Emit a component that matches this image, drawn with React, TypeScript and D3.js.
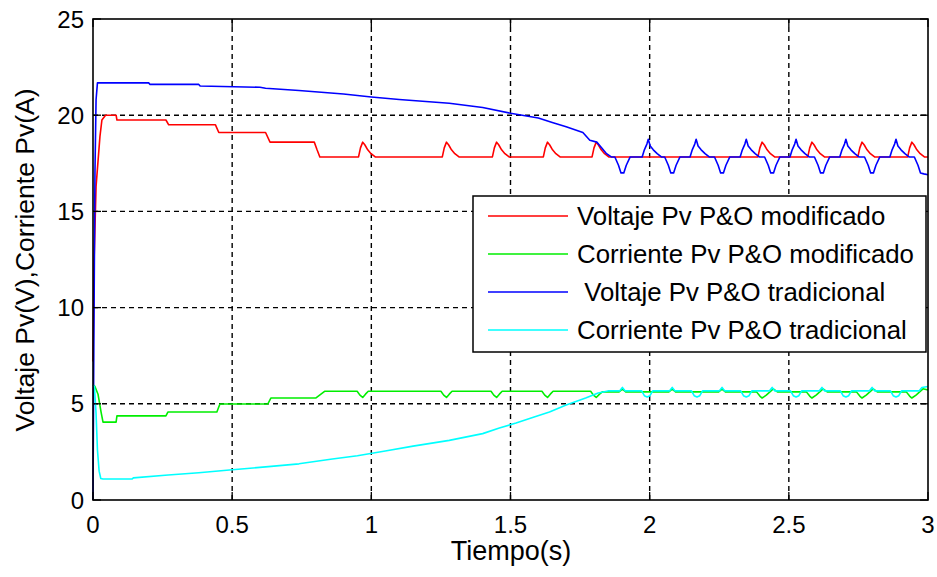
import React from "react";
import * as d3 from "d3";

type Pt = [number, number];

// Tick values
const xTicks = [0, 0.5, 1, 1.5, 2, 2.5, 3];
const xTickLabels = ["0", "0.5", "1", "1.5", "2", "2.5", "3"];
const yTicks = [0, 5, 10, 15, 20, 25];
const yTickLabels = ["0", "5", "10", "15", "20", "25"];

// Voltaje Pv P&O modificado
const voltajeModificado: Pt[] = [
  [0, 7.2], [0.004, 12.5], [0.011, 16.3], [0.018, 17.6], [0.025, 18.9], [0.032, 19.75], [0.045, 20.0],
  [0.083, 20.0], [0.086, 19.75], [0.262, 19.75], [0.272, 19.5], [0.44, 19.5], [0.452, 19.1], [0.62, 19.1],
  [0.636, 18.6], [0.795, 18.6], [0.805, 18.2], [0.815, 17.83],
  [0.954, 17.83], [0.961, 18.3], [0.969, 18.6], [0.977, 18.45], [0.987, 18.2], [0.999, 18.0], [1.014, 17.83],
  [1.255, 17.83], [1.262, 18.3], [1.27, 18.6], [1.278, 18.45], [1.288, 18.2], [1.3, 18.0], [1.315, 17.83],
  [1.435, 17.83], [1.442, 18.3], [1.45, 18.6], [1.458, 18.45], [1.468, 18.2], [1.48, 18.0], [1.495, 17.83],
  [1.618, 17.83], [1.625, 18.3], [1.633, 18.6], [1.641, 18.45], [1.651, 18.2], [1.663, 18.0], [1.678, 17.83],
  [1.793, 17.83], [1.8, 18.3], [1.808, 18.6], [1.816, 18.45], [1.826, 18.2], [1.838, 18.0], [1.853, 17.83],
  [2.389, 17.83], [2.396, 18.3], [2.404, 18.6], [2.412, 18.45], [2.422, 18.2], [2.434, 18.0], [2.449, 17.83],
  [2.568, 17.83], [2.575, 18.3], [2.583, 18.6], [2.591, 18.45], [2.601, 18.2], [2.613, 18.0], [2.628, 17.83],
  [2.748, 17.83], [2.755, 18.3], [2.763, 18.6], [2.771, 18.45], [2.781, 18.2], [2.793, 18.0], [2.808, 17.83],
  [2.927, 17.83], [2.934, 18.3], [2.942, 18.6], [2.95, 18.45], [2.96, 18.2], [2.972, 18.0], [2.987, 17.83],
  [3.0, 17.83],
];

// Corriente Pv P&O modificado
const corrienteModificado: Pt[] = [
  [0, 5.98], [0.007, 5.9], [0.018, 5.5], [0.029, 4.57], [0.036, 4.05], [0.083, 4.05], [0.086, 4.37],
  [0.262, 4.37], [0.269, 4.57], [0.445, 4.57], [0.456, 4.99], [0.628, 4.99], [0.639, 5.3], [0.8, 5.3],
  [0.832, 5.65],
  [0.949, 5.65], [0.959, 5.45], [0.969, 5.33], [0.979, 5.5], [0.989, 5.65],
  [1.25, 5.65], [1.26, 5.45], [1.27, 5.33], [1.28, 5.5], [1.29, 5.65],
  [1.43, 5.65], [1.44, 5.45], [1.45, 5.33], [1.46, 5.5], [1.47, 5.65],
  [1.613, 5.65], [1.623, 5.45], [1.633, 5.33], [1.643, 5.5], [1.653, 5.65],
  [1.788, 5.65], [1.798, 5.45], [1.808, 5.33], [1.82, 5.5], [1.83, 5.62],
  [1.89, 5.62], [1.902, 5.76], [1.914, 5.62],
  [2.069, 5.62], [2.081, 5.76], [2.093, 5.62],
  [2.248, 5.62], [2.26, 5.76], [2.272, 5.62],
  [2.384, 5.62], [2.396, 5.4], [2.404, 5.3], [2.419, 5.45], [2.432, 5.62], [2.444, 5.78], [2.459, 5.62],
  [2.563, 5.62], [2.575, 5.4], [2.583, 5.3], [2.598, 5.45], [2.611, 5.62], [2.623, 5.78], [2.638, 5.62],
  [2.743, 5.62], [2.755, 5.4], [2.763, 5.3], [2.778, 5.45], [2.791, 5.62], [2.803, 5.78], [2.818, 5.62],
  [2.922, 5.62], [2.934, 5.4], [2.942, 5.3], [2.957, 5.45], [2.97, 5.62], [2.982, 5.78], [3.0, 5.72],
];

// Voltaje Pv P&O tradicional
const voltajeTradicional: Pt[] = [
  [0, 0], [0.003, 8], [0.007, 17], [0.011, 20.8], [0.016, 21.68], [0.2, 21.68], [0.205, 21.6],
  [0.38, 21.6], [0.385, 21.52], [0.6, 21.45], [0.62, 21.4], [0.74, 21.28], [0.9, 21.1], [1.0, 20.95],
  [1.1, 20.82], [1.28, 20.62], [1.4, 20.4], [1.5, 20.1], [1.6, 19.85], [1.65, 19.62], [1.7, 19.4],
  [1.76, 19.1], [1.785, 18.7], [1.81, 18.6], [1.828, 18.3], [1.845, 18.0], [1.862, 17.83],
  [1.875, 17.83], [1.888, 17.4], [1.897, 17.0], [1.907, 17.0], [1.916, 17.4], [1.93, 17.83],
  [1.973, 17.83], [1.981, 18.2], [1.99, 18.5], [1.995, 18.75], [2.002, 18.4], [2.013, 18.2], [2.027, 18.0], [2.042, 17.83],
  [2.054, 17.83], [2.067, 17.4], [2.076, 17.0], [2.086, 17.0], [2.095, 17.4], [2.109, 17.83],
  [2.145, 17.83], [2.153, 18.2], [2.162, 18.5], [2.167, 18.75], [2.174, 18.4], [2.185, 18.2], [2.199, 18.0], [2.214, 17.83],
  [2.233, 17.83], [2.246, 17.4], [2.255, 17.0], [2.265, 17.0], [2.274, 17.4], [2.288, 17.83],
  [2.325, 17.83], [2.333, 18.2], [2.342, 18.5], [2.347, 18.75], [2.354, 18.4], [2.365, 18.2], [2.379, 18.0], [2.394, 17.83],
  [2.413, 17.83], [2.426, 17.4], [2.435, 17.0], [2.445, 17.0], [2.454, 17.4], [2.468, 17.83],
  [2.504, 17.83], [2.512, 18.2], [2.521, 18.5], [2.526, 18.75], [2.533, 18.4], [2.544, 18.2], [2.558, 18.0], [2.573, 17.83],
  [2.592, 17.83], [2.605, 17.4], [2.614, 17.0], [2.624, 17.0], [2.633, 17.4], [2.647, 17.83],
  [2.683, 17.83], [2.691, 18.2], [2.7, 18.5], [2.705, 18.75], [2.712, 18.4], [2.723, 18.2], [2.737, 18.0], [2.752, 17.83],
  [2.772, 17.83], [2.785, 17.4], [2.794, 17.0], [2.804, 17.0], [2.813, 17.4], [2.827, 17.83],
  [2.863, 17.83], [2.871, 18.2], [2.88, 18.5], [2.885, 18.75], [2.892, 18.4], [2.903, 18.2], [2.917, 18.0], [2.932, 17.83],
  [2.951, 17.83], [2.964, 17.4], [2.973, 17.0], [2.985, 16.95], [3.0, 16.9],
];

// Corriente Pv P&O tradicional
const corrienteTradicional: Pt[] = [
  [0, 5.98], [0.005, 5.9], [0.011, 4.5], [0.016, 2.6], [0.022, 1.5], [0.028, 1.12], [0.036, 1.09],
  [0.14, 1.09], [0.145, 1.15], [0.27, 1.3], [0.38, 1.42], [0.49, 1.56], [0.62, 1.72], [0.74, 1.88],
  [0.86, 2.13], [0.95, 2.3], [1.05, 2.55], [1.15, 2.8], [1.28, 3.1], [1.4, 3.45], [1.46, 3.74],
  [1.52, 4.0], [1.585, 4.31], [1.64, 4.57], [1.7, 4.94], [1.77, 5.3], [1.815, 5.56], [1.85, 5.67],
  [1.892, 5.67], [1.902, 5.85], [1.912, 5.67],
  [1.971, 5.67], [1.981, 5.42], [1.991, 5.35], [2.001, 5.42], [2.011, 5.67],
  [2.071, 5.67], [2.081, 5.85], [2.091, 5.67],
  [2.15, 5.67], [2.16, 5.42], [2.17, 5.35], [2.18, 5.42], [2.19, 5.67],
  [2.25, 5.67], [2.26, 5.85], [2.27, 5.67],
  [2.327, 5.67], [2.337, 5.42], [2.347, 5.35], [2.357, 5.42], [2.367, 5.67],
  [2.43, 5.67], [2.44, 5.85], [2.45, 5.67],
  [2.506, 5.67], [2.516, 5.42], [2.526, 5.35], [2.536, 5.42], [2.546, 5.67],
  [2.609, 5.67], [2.619, 5.85], [2.629, 5.67],
  [2.685, 5.67], [2.695, 5.42], [2.705, 5.35], [2.715, 5.42], [2.725, 5.67],
  [2.789, 5.67], [2.799, 5.85], [2.809, 5.67],
  [2.865, 5.67], [2.875, 5.42], [2.885, 5.35], [2.895, 5.42], [2.905, 5.67],
  [2.968, 5.67], [2.978, 5.85], [3.0, 5.9],
];

const seriesNames = [
  "Voltaje Pv P&O modificado",
  "Corriente Pv P&O modificado",
  " Voltaje Pv P&O tradicional",
  "Corriente Pv P&O tradicional",
];
const seriesColors = ["#ff0000", "#00ee00", "#0000ff", "#00ffff"];
const seriesData = [voltajeModificado, corrienteModificado, voltajeTradicional, corrienteTradicional];

const W = 937;
const H = 577;
const left = 93;
const right = 928;
const top = 19;
const bottom = 500;
const font = "'Liberation Sans', Arial, Helvetica, sans-serif";

export default function App() {
  const x = d3.scaleLinear().domain([0, 3]).range([left, right]);
  const y = d3.scaleLinear().domain([0, 25]).range([bottom, top]);
  const line = d3
    .line<Pt>()
    .x((d) => x(d[0]))
    .y((d) => y(d[1]));

  const tickLen = 8;
  const legX = 473;
  const legY = 196;
  const legW = 453;
  const legH = 156;
  const rowY = [216, 254, 292, 330];

  return (
    <svg
      width={W}
      height={H}
      style={{ position: "absolute", left: 0, top: 0, background: "#fff" }}
      fontFamily={font}
    >
      <rect x={0} y={0} width={W} height={H} fill="#fff" />
      {/* grid */}
      <g stroke="#000" strokeWidth={1.4} strokeDasharray="5,4">
        {xTicks.slice(1, -1).map((t) => (
          <line key={"gx" + t} x1={x(t)} x2={x(t)} y1={bottom} y2={top} />
        ))}
        {yTicks.slice(1, -1).map((t) => (
          <line key={"gy" + t} x1={left} x2={right} y1={y(t)} y2={y(t)} />
        ))}
      </g>
      {/* data */}
      <g fill="none" strokeWidth={1.6} strokeLinejoin="round">
        {seriesData.map((d, i) => (
          <path key={i} d={line(d) || ""} stroke={seriesColors[i]} />
        ))}
      </g>
      {/* ticks */}
      <g stroke="#000" strokeWidth={1.3}>
        {xTicks.map((t) => (
          <g key={"tx" + t}>
            <line x1={x(t)} x2={x(t)} y1={bottom} y2={bottom - tickLen} />
            <line x1={x(t)} x2={x(t)} y1={top} y2={top + tickLen} />
          </g>
        ))}
        {yTicks.map((t) => (
          <g key={"ty" + t}>
            <line x1={left} x2={left + tickLen} y1={y(t)} y2={y(t)} />
            <line x1={right} x2={right - tickLen} y1={y(t)} y2={y(t)} />
          </g>
        ))}
      </g>
      {/* frame */}
      <rect x={left} y={top} width={right - left} height={bottom - top} fill="none" stroke="#000" strokeWidth={1.6} />
      {/* tick labels */}
      <g fontSize={24} fill="#000">
        {xTicks.map((t, i) => (
          <text key={"lx" + t} x={x(t)} y={533} textAnchor="middle">
            {xTickLabels[i]}
          </text>
        ))}
        {yTicks.map((t, i) => (
          <text key={"ly" + t} x={84} y={y(t) + 8.5} textAnchor="end">
            {yTickLabels[i]}
          </text>
        ))}
      </g>
      {/* axis titles */}
      <text x={511} y={560} textAnchor="middle" fontSize={27} fill="#000">
        Tiempo(s)
      </text>
      <text
        transform={`translate(34, 260) rotate(-90)`}
        textAnchor="middle"
        fontSize={26.5}
        fill="#000"
      >
        Voltaje Pv(V),Corriente Pv(A)
      </text>
      {/* legend */}
      <rect x={legX} y={legY} width={legW} height={legH} fill="#fff" stroke="#000" strokeWidth={1.5} />
      {seriesNames.map((name, i) => (
        <g key={"leg" + i}>
          <line x1={488} x2={568} y1={rowY[i]} y2={rowY[i]} stroke={seriesColors[i]} strokeWidth={1.6} />
          <text x={577} y={rowY[i] + 9} fontSize={25.8} fill="#000" style={{ whiteSpace: "pre" }}>
            {name}
          </text>
        </g>
      ))}
    </svg>
  );
}
